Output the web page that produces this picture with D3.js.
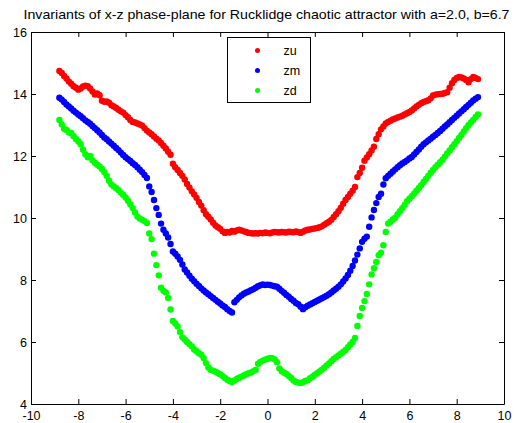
<!DOCTYPE html>
<html>
<head>
<meta charset="utf-8">
<script src="https://cdn.jsdelivr.net/npm/d3@7"></script>
<style>
  html, body { margin: 0; padding: 0; background: #fff; }
  svg { display: block; font-family: "Liberation Sans", Arial, Helvetica, sans-serif; }
</style>
</head>
<body>
<svg id="chart" width="515" height="423"></svg>
<script>
// Sample positions along x (shared by all three invariants)
const xs = [
  -8.8,-8.7,-8.6,-8.5,-8.4,-8.3,-8.2,-8.1,-8.0,-7.9,
  -7.8,-7.7,-7.6,-7.5,-7.4,-7.3,-7.2,-7.1,-7.0,-6.9,
  -6.8,-6.7,-6.6,-6.5,-6.4,-6.3,-6.2,-6.1,-6.0,-5.9,
  -5.8,-5.7,-5.6,-5.5,-5.4,-5.3,-5.2,-5.1,-5.0,-4.9,
  -4.8,-4.7,-4.6,-4.5,-4.4,-4.3,-4.2,-4.1,-4.0,-3.9,
  -3.8,-3.7,-3.6,-3.5,-3.4,-3.3,-3.2,-3.1,-3.0,-2.9,
  -2.8,-2.7,-2.6,-2.5,-2.4,-2.3,-2.2,-2.1,-2.0,-1.9,
  -1.8,-1.7,-1.6,-1.5,-1.4,-1.3,-1.2,-1.1,-1.0,-0.9,
  -0.8,-0.7,-0.6,-0.5,-0.4,-0.3,-0.2,-0.1,0.0,0.1,
  0.2,0.3,0.4,0.5,0.6,0.7,0.8,0.9,1.0,1.1,
  1.2,1.3,1.4,1.5,1.6,1.7,1.8,1.9,2.0,2.1,
  2.2,2.3,2.4,2.5,2.6,2.7,2.8,2.9,3.0,3.1,
  3.2,3.3,3.4,3.5,3.6,3.7,3.8,3.9,4.0,4.1,
  4.2,4.3,4.4,4.5,4.6,4.7,4.8,4.9,5.0,5.1,
  5.2,5.3,5.4,5.5,5.6,5.7,5.8,5.9,6.0,6.1,
  6.2,6.3,6.4,6.5,6.6,6.7,6.8,6.9,7.0,7.1,
  7.2,7.3,7.4,7.5,7.6,7.7,7.8,7.9,8.0,8.1,
  8.2,8.3,8.4,8.5,8.6,8.7,8.8,8.9
];

// Upper invariant z_u
const zu = [
  14.74,14.68,14.58,14.50,14.40,14.33,14.25,14.20,14.14,14.18,
  14.24,14.27,14.25,14.18,14.08,13.98,14.02,13.96,13.78,13.75,
  13.76,13.72,13.64,13.60,13.55,13.49,13.44,13.40,13.32,13.25,
  13.16,13.10,13.08,13.05,13.02,12.98,12.90,12.82,12.76,12.70,
  12.63,12.56,12.50,12.42,12.33,12.24,12.14,12.04,11.75,11.64,
  11.55,11.45,11.36,11.24,11.10,10.98,10.86,10.76,10.65,10.52,
  10.40,10.25,10.12,10.04,9.95,9.85,9.76,9.70,9.65,9.57,
  9.52,9.55,9.53,9.58,9.56,9.60,9.62,9.60,9.57,9.55,
  9.52,9.51,9.50,9.51,9.50,9.52,9.51,9.53,9.52,9.51,
  9.53,9.55,9.54,9.53,9.55,9.54,9.53,9.56,9.55,9.54,
  9.57,9.55,9.52,9.56,9.60,9.62,9.63,9.65,9.66,9.68,
  9.70,9.73,9.78,9.83,9.88,9.94,10.03,10.12,10.22,10.33,
  10.46,10.58,10.68,10.78,10.88,11.00,11.32,11.45,11.62,11.85,
  11.95,12.06,12.18,12.30,12.55,12.70,12.86,12.95,13.05,13.10,
  13.14,13.18,13.21,13.24,13.27,13.30,13.34,13.38,13.42,13.47,
  13.53,13.60,13.65,13.70,13.74,13.77,13.80,13.86,13.95,13.98,
  13.99,14.00,14.01,14.03,14.06,14.20,14.35,14.45,14.52,14.55,
  14.53,14.50,14.45,14.38,14.48,14.55,14.52,14.48
];

// Middle invariant z_m
const zm = [
  13.88,13.82,13.74,13.66,13.60,13.53,13.46,13.40,13.34,13.28,
  13.22,13.15,13.10,13.04,12.97,12.90,12.83,12.76,12.68,12.60,
  12.54,12.47,12.40,12.33,12.26,12.19,12.11,12.03,11.96,11.90,
  11.84,11.77,11.71,11.64,11.56,11.48,11.39,11.29,11.02,10.84,
  10.58,10.32,10.10,9.82,9.62,9.50,9.37,9.16,8.92,8.85,
  8.76,8.65,8.50,8.34,8.24,8.14,8.04,7.96,7.88,7.81,
  7.73,7.66,7.60,7.54,7.48,7.42,7.36,7.30,7.24,7.18,
  7.13,7.06,7.00,6.95,7.28,7.36,7.44,7.50,7.56,7.60,
  7.63,7.67,7.70,7.75,7.80,7.83,7.86,7.84,7.85,7.84,
  7.82,7.80,7.78,7.72,7.65,7.59,7.52,7.46,7.39,7.33,
  7.26,7.22,7.14,7.06,7.12,7.17,7.21,7.25,7.29,7.33,
  7.37,7.41,7.45,7.49,7.54,7.60,7.66,7.72,7.78,7.86,
  7.95,8.05,8.16,8.30,8.45,8.63,8.82,9.02,9.23,9.33,
  9.40,9.72,10.02,10.26,10.48,10.68,10.78,11.08,11.28,11.36,
  11.43,11.50,11.57,11.64,11.70,11.76,11.81,11.86,11.92,11.97,
  12.05,12.13,12.21,12.30,12.38,12.44,12.50,12.56,12.62,12.68,
  12.74,12.81,12.88,12.95,13.02,13.09,13.16,13.23,13.30,13.37,
  13.44,13.51,13.58,13.65,13.72,13.79,13.85,13.90
];

// Lower invariant z_d
const zd = [
  13.16,13.02,12.88,12.84,12.76,12.74,12.64,12.55,12.47,12.38,
  12.20,12.06,11.96,12.00,11.86,11.78,11.72,11.66,11.58,11.48,
  11.36,11.20,11.08,11.02,10.96,10.90,10.82,10.74,10.66,10.56,
  10.44,10.32,10.18,10.05,9.98,9.94,9.90,9.84,9.50,9.32,
  8.85,8.48,8.15,7.75,7.65,7.60,7.42,7.05,6.68,6.60,
  6.50,6.32,6.15,6.08,6.00,5.93,5.86,5.76,5.70,5.64,
  5.59,5.48,5.32,5.18,5.10,5.07,5.04,5.00,4.96,4.90,
  4.84,4.78,4.74,4.71,4.76,4.81,4.85,4.88,4.92,4.96,
  4.99,5.02,5.06,5.10,5.30,5.36,5.40,5.43,5.46,5.48,
  5.48,5.44,5.35,5.15,5.06,5.01,4.97,4.90,4.84,4.76,
  4.71,4.69,4.68,4.70,4.74,4.77,4.83,4.88,4.94,4.99,
  5.05,5.11,5.17,5.24,5.31,5.38,5.45,5.51,5.57,5.62,
  5.68,5.74,5.83,5.92,6.00,6.13,6.52,6.84,7.10,7.32,
  7.55,7.86,8.18,8.38,8.58,8.80,8.88,9.12,9.55,9.82,
  9.88,9.95,10.01,10.12,10.22,10.32,10.43,10.54,10.62,10.70,
  10.79,10.88,10.97,11.06,11.16,11.26,11.36,11.46,11.55,11.64,
  11.72,11.80,11.88,11.98,12.08,12.18,12.28,12.38,12.48,12.58,
  12.68,12.79,12.90,13.00,13.08,13.16,13.26,13.34
];

const seriesNames = ["zu", "zm", "zd"];
const seriesColors = ["#ff0000", "#0000ff", "#00ff00"];
const seriesValues = [zu, zm, zd];

const xTicks = [-10, -8, -6, -4, -2, 0, 2, 4, 6, 8, 10];
const yTicks = [4, 6, 8, 10, 12, 14, 16];
const titleText = "Invariants of x-z phase-plane for Rucklidge chaotic attractor with a=2.0, b=6.7";

const svg = d3.select("#chart");
const margin = { left: 31, right: 11, top: 32, bottom: 19 };
const W = 515, H = 423;

const x = d3.scaleLinear().domain([-10, 10]).range([margin.left, W - margin.right]);
const y = d3.scaleLinear().domain([4, 16]).range([H - margin.bottom, margin.top]);

const fmt = d => String(d);

// Title, stretched across the width above the axes
svg.append("text")
  .attr("x", 266.5)
  .attr("y", 19)
  .attr("text-anchor", "middle")
  .attr("font-size", 13)
  .attr("textLength", 486)
  .attr("lengthAdjust", "spacingAndGlyphs")
  .attr("fill", "#000")
  .text(titleText);

// Scatter points
const plot = svg.append("g");
seriesValues.forEach((vals, i) => {
  plot.append("g")
    .attr("fill", seriesColors[i])
    .selectAll("circle")
    .data(xs.map((xv, k) => [xv, vals[k]]))
    .join("circle")
    .attr("cx", d => x(d[0]))
    .attr("cy", d => y(d[1]))
    .attr("r", 3.2);
});

// Axes with inward ticks on all four sides
function styleAxis(g) {
  g.selectAll("path.domain").attr("stroke", "#000").attr("stroke-width", 1);
  g.selectAll(".tick line").attr("stroke", "#000");
  g.selectAll("text").attr("fill", "#000").attr("font-size", 12.5)
    .attr("font-family", "'Liberation Sans', Arial, sans-serif");
}

svg.append("g")
  .attr("transform", `translate(0,${y(4)})`)
  .call(d3.axisBottom(x).tickValues(xTicks).tickFormat(fmt).tickSize(-5).tickSizeOuter(0).tickPadding(7))
  .call(styleAxis);

svg.append("g")
  .attr("transform", `translate(0,${y(16)})`)
  .call(d3.axisTop(x).tickValues(xTicks).tickFormat("").tickSize(-5).tickSizeOuter(0))
  .call(styleAxis);

svg.append("g")
  .attr("transform", `translate(${x(-10)},0)`)
  .call(d3.axisLeft(y).tickValues(yTicks).tickFormat(fmt).tickSize(-5).tickSizeOuter(0).tickPadding(4))
  .call(styleAxis);

svg.append("g")
  .attr("transform", `translate(${x(10)},0)`)
  .call(d3.axisRight(y).tickValues(yTicks).tickFormat("").tickSize(-5).tickSizeOuter(0))
  .call(styleAxis);

// Legend
const legend = svg.append("g").attr("transform", "translate(227.5,37.5)");
legend.append("rect")
  .attr("width", 83).attr("height", 65)
  .attr("fill", "#fff").attr("stroke", "#000").attr("stroke-width", 1);
seriesNames.forEach((name, i) => {
  const cy = 13 + i * 20;
  legend.append("circle").attr("cx", 30).attr("cy", cy).attr("r", 2.5).attr("fill", seriesColors[i]);
  legend.append("text").attr("x", 56).attr("y", cy).attr("dy", "0.35em")
    .attr("font-size", 12.5).attr("fill", "#000").text(name);
});
</script>
</body>
</html>
